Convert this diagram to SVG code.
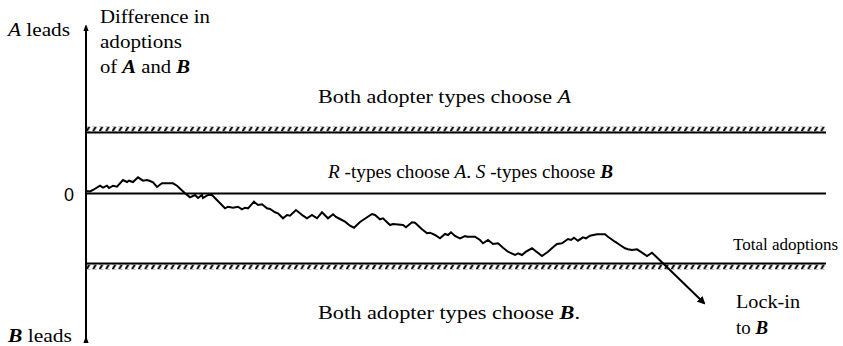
<svg xmlns="http://www.w3.org/2000/svg" width="843" height="346" viewBox="0 0 843 346">
<style>
  text { font-family: "Liberation Serif", "Times New Roman", "DejaVu Serif", serif; font-size: 18px; fill: #000; }
  .it { font-style: italic; }
  .bi { font-style: italic; font-weight: bold; }
  .sans { font-family: "Liberation Sans", Arial, sans-serif; font-size: 18px; }
  .ln { stroke: #000; fill: none; }
</style>
<defs>
  <pattern id="hatchTop" patternUnits="userSpaceOnUse" x="86" y="126.5" width="6.5" height="5">
    <line x1="0.3" y1="5.2" x2="3.6" y2="-0.2" stroke="#000" stroke-width="2"/>
  </pattern>
  <pattern id="hatchBot" patternUnits="userSpaceOnUse" x="86" y="264.5" width="6.5" height="5">
    <line x1="0.3" y1="5.2" x2="3.6" y2="-0.2" stroke="#000" stroke-width="2"/>
  </pattern>
  <marker id="axisHead" viewBox="0 0 6 8" refX="3" refY="4" markerWidth="6" markerHeight="8" markerUnits="userSpaceOnUse" orient="auto">
    <path d="M0,8 L3,0 L6,8 Z" fill="#000" transform="rotate(90 3 4)"/>
  </marker>
  <marker id="lockHead" viewBox="0 0 8 8" refX="6" refY="4" markerWidth="8" markerHeight="8" markerUnits="userSpaceOnUse" orient="auto">
    <path d="M0,0 L8,4 L0,8 Z" fill="#000"/>
  </marker>
</defs>

<g id="axis">
  <line class="ln" x1="86" y1="340" x2="86" y2="28" stroke-width="2" marker-end="url(#axisHead)" marker-start="url(#axisHead)"/>
  <text x="8" y="36" textLength="62" lengthAdjust="spacingAndGlyphs"><tspan class="it">A</tspan> leads</text>
  <text x="8" y="342" textLength="64" lengthAdjust="spacingAndGlyphs"><tspan class="bi">B</tspan> leads</text>
  <text x="100" y="23" textLength="110" lengthAdjust="spacingAndGlyphs">Difference in</text>
  <text x="100" y="48" textLength="82" lengthAdjust="spacingAndGlyphs">adoptions</text>
  <text x="100" y="73" textLength="90" lengthAdjust="spacingAndGlyphs">of <tspan class="bi">A</tspan> and <tspan class="bi">B</tspan></text>
  <text class="sans" x="64" y="201">0</text>
</g>

<g id="upper-threshold">
  <line class="ln" x1="86" y1="132.5" x2="826" y2="132.5" stroke-width="2"/>
  <rect x="86" y="126.5" width="740" height="5" fill="url(#hatchTop)"/>
  <text x="318" y="103" textLength="253" lengthAdjust="spacingAndGlyphs">Both adopter types choose <tspan class="it">A</tspan></text>
</g>

<g id="zero-line">
  <line class="ln" x1="86" y1="193.5" x2="826" y2="193.5" stroke-width="2"/>
  <text x="328" y="178" textLength="285" lengthAdjust="spacingAndGlyphs"><tspan class="it">R</tspan> -types choose <tspan class="it">A</tspan>. <tspan class="it">S</tspan> -types choose <tspan class="bi">B</tspan></text>
  <text x="733" y="250" style="font-size:17px">Total adoptions</text>
</g>

<g id="lower-threshold">
  <line class="ln" x1="86" y1="263.5" x2="826" y2="263.5" stroke-width="2"/>
  <rect x="86" y="264.5" width="740" height="5" fill="url(#hatchBot)"/>
  <text x="318" y="319" textLength="262" lengthAdjust="spacingAndGlyphs">Both adopter types choose <tspan class="bi">B</tspan>.</text>
</g>

<g id="lock-in">
  <text x="736" y="308" textLength="64" lengthAdjust="spacingAndGlyphs">Lock-in</text>
  <text x="736" y="334" textLength="32" lengthAdjust="spacingAndGlyphs">to <tspan class="bi">B</tspan></text>
</g>

<g id="connectors">
  <polyline class="ln" stroke-width="2" stroke-linejoin="miter" marker-end="url(#lockHead)" points="86,191 90,191.5 93,190 100,185.7 103,187.7 107,185.7 109,188 113,185.7 117,186.7 123,180 127,182 129,180.7 133,182 138,177.3 143,180.7 147,180 150,181 153,182.3 157,187 162,183.3 173,183.3 177,185.7 185,193.3 190,197.3 195,195 198,198 202,195 203,198 208,195 212,195 225,208.3 228,206.7 233,207.7 238,206.7 242,209.3 245,207.7 248,208.3 254,201.7 258,205 262,204.3 267,208.3 270,209 275,212.3 278,213.3 283,218.3 287,215 290,215.7 296,210 303,215.7 307,218.3 312,215 313,215.7 317,218.3 322,212.3 328,218.3 333,214.3 336,217 340,219 345,221.7 350,225.7 354,227.7 360,222 372,214 375,215 380,219.3 383,218.3 390,225 393,224 403,225 406,227.3 412,222.3 415,222.7 422,229.3 427,233.3 430,232.7 435,235 440,238.3 445,234 448,235 451,232.3 455,236 460,238.3 465,236 467,236.7 475,236.7 480,240 483,243.3 488,240 493,244 498,243.3 503,247.7 508,251.7 510,252.7 515,255 518,253.3 522,255 526,251.7 532,248.3 542,256 548,251.7 553,247.3 557,244 562,243.3 568,239 571,240 574,237.7 578,240.7 583,237.3 586,238.3 590,235.7 597,234.3 605,234.3 608,236.7 615,241.7 620,245 625,248.3 628,249.3 632,250 637,249.3 642,252.7 647,256 652,252.7 657,257.5 663,263.3 704,303"/>
</g>
</svg>
